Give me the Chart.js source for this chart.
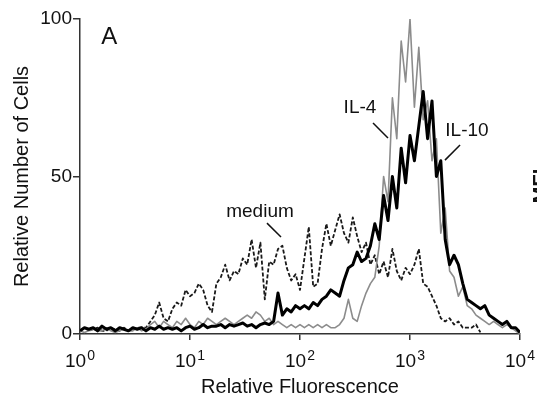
<!DOCTYPE html>
<html>
<head>
<meta charset="utf-8">
<script src="https://cdn.jsdelivr.net/npm/chart.js@4.4.1/dist/chart.umd.min.js"></script>
<style>
  body { margin: 0; background: #fff; }
</style>
</head>
<body>
<canvas id="histChart" width="537" height="400"></canvas>
<script>
// channel positions in decades (log10 of fluorescence)
var logChannels = [0, 0.04, 0.08, 0.12, 0.16, 0.2, 0.24, 0.28, 0.32, 0.36,
    0.4, 0.44, 0.48, 0.52, 0.56, 0.6, 0.64, 0.68, 0.72, 0.76,
    0.8, 0.84, 0.88, 0.92, 0.96, 1, 1.04, 1.08, 1.12, 1.16,
    1.2, 1.24, 1.28, 1.32, 1.36, 1.4, 1.44, 1.48, 1.52, 1.56,
    1.6, 1.64, 1.68, 1.72, 1.76, 1.8, 1.84, 1.88, 1.92, 1.96,
    2, 2.04, 2.08, 2.12, 2.16, 2.2, 2.24, 2.28, 2.32, 2.36,
    2.4, 2.44, 2.48, 2.52, 2.56, 2.6, 2.64, 2.68, 2.72, 2.76,
    2.8, 2.84, 2.88, 2.92, 2.96, 3, 3.04, 3.08, 3.12, 3.16,
    3.2, 3.24, 3.28, 3.32, 3.36, 3.4, 3.44, 3.48, 3.52, 3.56,
    3.6, 3.64, 3.68, 3.72, 3.76, 3.8, 3.84, 3.88, 3.92, 3.96, 4];

var medium = [1, 2, 1, 1.5, 2, 1, 1, 2, 1.5, 1, 2, 1, 1.5, 2,
    2, 2, 4, 6, 10, 5, 4, 8, 10, 9, 14, 12, 13, 16, 14, 9,
    7, 16, 18, 22, 17, 20, 19, 24, 22, 30, 21, 29, 11, 23, 22, 27, 28, 21, 17, 19,
    14, 24, 34, 15, 16, 27, 35, 28, 33, 38, 32, 29, 37, 31, 26, 29, 22, 25, 19, 23,
    18, 27, 20, 17, 21, 19, 22, 27, 16, 15, 12, 9, 5, 4, 5, 3, 4, 2, 2, 2, 3, 0.5,
    null, null, null, null, null, null, null, null, null];

var il4 = [1, 0.5, 1, 1.5, 1, 1, 2, 1, 0.5, 1, 1.5, 1, 1, 2, 1,
    1.5, 3, 4, 2, 4, 3, 2, 4, 3, 5, 3, 2, 4, 3, 5, 4, 3, 4, 5, 4, 3,
    4, 5, 6, 5, 7, 6, 4, 5, 3, 4, 3, 2, 3, 2, 3, 2, 3, 2, 3, 2, 3, 2, 2, 3,
    5, 11, 5, 4, 9, 13, 16, 18, 28, 50, 42, 75, 62, 93, 80, 100, 72, 91, 68, 74, 55,
    62, 32, 40, 20, 18, 12, 15, 9, 8, 6, 5, 4, 3, 4, 3, 2, 3, 2, 1, 0];

var il10 = [1, 2, 1.5, 2, 1, 2.5, 1.5, 2, 1, 2, 1.5, 1, 2, 1.5, 2, 1, 2, 1.5, 2.5, 1.5,
    2, 1.5, 2, 1, 2, 2.5, 1.5, 2, 3, 2, 2.5,
    2.5, 3, 2, 3, 2.5, 3, 3.5, 2.5, 3, 2, 3, 3.5, 3, 4,
    13, 6, 8, 7, 9, 8, 9, 8, 10, 9, 11, 12, 14, 13, 12, 17,
    21, 22, 26, 23, 24, 28, 35, 30, 44, 36, 50, 40, 59, 48, 63, 55, 66, 77, 62, 74,
    50, 55, 30, 22, 25, 22, 16, 11, 10, 9, 8, 9, 6, 5, 4, 3, 4, 2, 2, 0.5];

var xTickValues = [1, 10, 100, 1000, 10000];
var xTickPowers = ['0', '1', '2', '3', '4'];
var yTickValues = [0, 50, 100];

// text labels on the plot, in data units (fluorescence, % cells)
var labelTexts = ['medium', 'IL-4', 'IL-10'];
var labelAt = [[43.3, 38.7], [351, 71.7], [3296, 64.4]];
var leaderFrom = [[50.1, 35.2], [461, 67.0], [2850, 60.0]];
var leaderTo = [[67.2, 30.8], [631, 62.2], [2080, 55.2]];

var FONT = '"Liberation Sans", Arial, Helvetica, sans-serif';

function toPoints(values) {
    var pts = [];
    for (var i = 0; i < logChannels.length; i++) {
        pts.push({ x: Math.pow(10, logChannels[i]), y: values[i] });
    }
    return pts;
}

var decorations = {
    id: 'decorations',
    afterDraw: function (chart) {
        var ctx = chart.ctx;
        var xs = chart.scales.x, ys = chart.scales.y;
        ctx.save();
        ctx.fillStyle = '#111';
        ctx.strokeStyle = '#111';
        ctx.textBaseline = 'alphabetic';

        // x tick labels: 10 with raised power
        for (var i = 0; i < xTickValues.length; i++) {
            var px = xs.getPixelForValue(xTickValues[i]);
            ctx.font = '19px ' + FONT;
            var baseW = ctx.measureText('10').width;
            ctx.font = '14px ' + FONT;
            var expW = ctx.measureText(xTickPowers[i]).width;
            var left = px - (baseW + expW + 1) / 2;
            ctx.textAlign = 'left';
            ctx.font = '19px ' + FONT;
            ctx.fillText('10', left, xs.top + 33);
            ctx.font = '14px ' + FONT;
            ctx.fillText(xTickPowers[i], left + baseW + 1, xs.top + 26);
        }

        // curve labels + leader lines
        ctx.font = '19px ' + FONT;
        ctx.textAlign = 'center';
        ctx.textBaseline = 'middle';
        ctx.lineWidth = 1.5;
        for (var j = 0; j < labelTexts.length; j++) {
            ctx.fillText(labelTexts[j], xs.getPixelForValue(labelAt[j][0]), ys.getPixelForValue(labelAt[j][1]));
            ctx.beginPath();
            ctx.moveTo(xs.getPixelForValue(leaderFrom[j][0]), ys.getPixelForValue(leaderFrom[j][1]));
            ctx.lineTo(xs.getPixelForValue(leaderTo[j][0]), ys.getPixelForValue(leaderTo[j][1]));
            ctx.stroke();
        }

        // panel letter
        ctx.font = '24px ' + FONT;
        ctx.fillText('A', xs.getPixelForValue(1.84), ys.getPixelForValue(94.3));

        // cut-off axis title of the neighbouring panel
        ctx.translate(chart.width + 10, ys.getPixelForValue(47));
        ctx.rotate(-Math.PI / 2);
        ctx.textBaseline = 'alphabetic';
        ctx.font = 'bold 20px ' + FONT;
        ctx.fillText('MFI', 0, 0);
        ctx.restore();
    }
};

var ctx = document.getElementById('histChart');
var histChart = new Chart(ctx, {
    type: 'line',
    data: {
        datasets: [{
            label: 'IL-10',
            data: toPoints(il10),
            borderColor: '#000',
            borderWidth: 3
        }, {
            label: 'IL-4',
            data: toPoints(il4),
            borderColor: '#8c8c8c',
            borderWidth: 1.6
        }, {
            label: 'medium',
            data: toPoints(medium),
            borderColor: '#1a1a1a',
            borderWidth: 1.8,
            borderDash: [4, 2]
        }]
    },
    options: {
        responsive: false,
        animation: false,
        devicePixelRatio: 1,
        elements: {
            point: { radius: 0 },
            line: { tension: 0, borderJoinStyle: 'round' }
        },
        layout: { padding: { top: 19, right: 17, left: 0, bottom: 0 } },
        plugins: {
            legend: { display: false },
            tooltip: { enabled: false }
        },
        scales: {
            x: {
                type: 'logarithmic',
                min: 1,
                max: 10000,
                afterBuildTicks: function (scale) {
                    scale.ticks = xTickValues.map(function (v) { return { value: v }; });
                },
                afterFit: function (scale) { scale.height = 66; },
                ticks: { display: false },
                grid: { drawOnChartArea: false, drawTicks: true, tickLength: 6, color: '#333', lineWidth: 1.5 },
                border: { color: '#333', width: 1.5 },
                title: {
                    display: true,
                    text: 'Relative Fluorescence',
                    color: '#111',
                    font: { family: FONT, size: 20 },
                    padding: { top: 0, bottom: 1 }
                }
            },
            y: {
                min: 0,
                max: 100,
                afterBuildTicks: function (scale) {
                    scale.ticks = yTickValues.map(function (v) { return { value: v }; });
                },
                afterFit: function (scale) { scale.width = 80; },
                ticks: {
                    color: '#111',
                    padding: 1,
                    font: { family: FONT, size: 19 }
                },
                grid: { drawOnChartArea: false, drawTicks: true, tickLength: 7, color: '#333', lineWidth: 1.5 },
                border: { color: '#333', width: 1.5 },
                title: {
                    display: true,
                    text: 'Relative Number of Cells',
                    color: '#111',
                    font: { family: FONT, size: 20 },
                    padding: { top: 10, bottom: 0 }
                }
            }
        }
    },
    plugins: [decorations]
});
</script>
</body>
</html>
